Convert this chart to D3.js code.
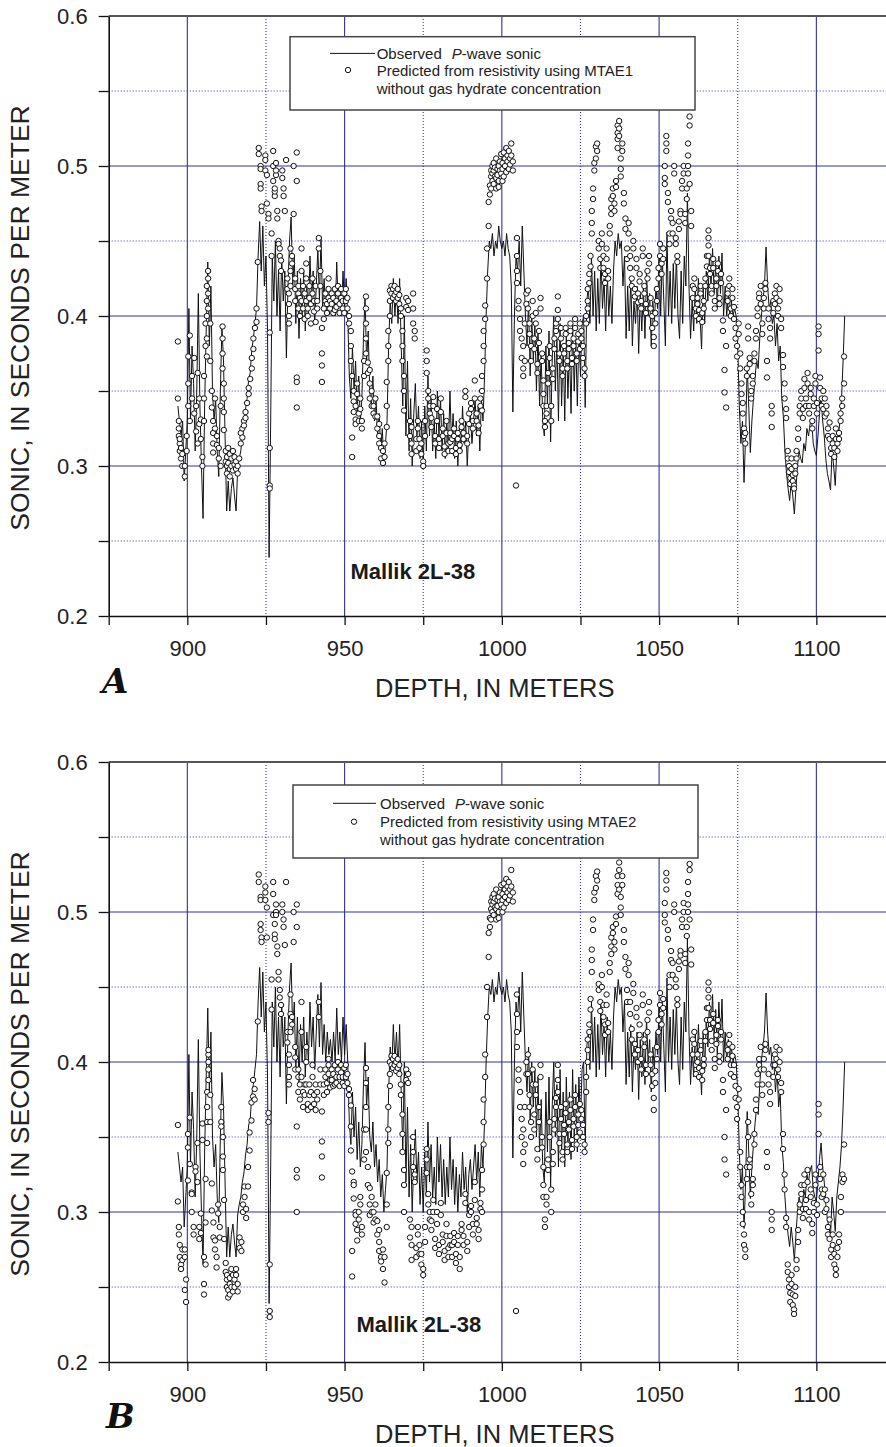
<!DOCTYPE html>
<html><head><meta charset="utf-8">
<script src="https://cdn.jsdelivr.net/npm/d3@7"></script>
<style>body{margin:0;background:#fff}svg{display:block;font-family:"Liberation Sans",Arial,Helvetica,sans-serif}</style>
</head><body><svg id="chart" width="886" height="1447"></svg>
<script>
// ---------------- DATA ----------------
const depthDomain = [875, 1125];
const sonicDomain = [0.2, 0.6];
const xTicks = [875, 900, 925, 950, 975, 1000, 1025, 1050, 1075, 1100, 1125];
const xTickLabels = [900, 950, 1000, 1050, 1100];
const yTicks = [0.2, 0.25, 0.3, 0.35, 0.4, 0.45, 0.5, 0.55, 0.6];
const yTickLabels = ["0.2", "0.3", "0.4", "0.5", "0.6"];
const majorGridX = [900, 950, 1000, 1050, 1100];
const minorGridX = [925, 975, 1025, 1075];
const majorGridY = [0.3, 0.4, 0.5];
const minorGridY = [0.25, 0.35, 0.45, 0.55];

// Observed P-wave sonic, sampled every 0.5 m starting at 897 m
const observedStartDepth = 897, observedStep = 0.5;
const observedSonic = [
0.340,0.330,0.320,0.330,0.290,0.310,0.330,0.405,0.330,0.380,
0.355,0.310,0.350,0.415,0.340,0.300,0.265,0.340,0.390,0.436,
0.380,0.420,0.350,0.330,0.345,0.310,0.293,0.350,0.393,0.370,
0.320,0.270,0.290,0.270,0.285,0.292,0.280,0.270,0.298,0.305,
0.310,0.320,0.326,0.338,0.345,0.358,0.362,0.378,0.385,0.395,
0.405,0.440,0.463,0.430,0.460,0.420,0.440,0.390,0.239,0.330,
0.440,0.410,0.450,0.400,0.430,0.390,0.440,0.410,0.430,0.372,
0.420,0.450,0.466,0.420,0.440,0.395,0.430,0.385,0.425,0.400,
0.430,0.390,0.420,0.400,0.440,0.410,0.430,0.395,0.420,0.445,
0.410,0.453,0.405,0.425,0.400,0.420,0.405,0.415,0.400,0.420,
0.400,0.436,0.405,0.420,0.400,0.430,0.405,0.425,0.400,0.360,
0.345,0.380,0.350,0.370,0.335,0.360,0.330,0.345,0.385,0.413,
0.370,0.390,0.350,0.340,0.360,0.330,0.345,0.320,0.335,0.310,
0.325,0.300,0.315,0.330,0.380,0.410,0.395,0.425,0.400,0.420,
0.395,0.425,0.380,0.340,0.400,0.320,0.370,0.310,0.345,0.300,
0.335,0.355,0.320,0.340,0.305,0.330,0.300,0.340,0.310,0.360,
0.320,0.345,0.310,0.330,0.305,0.350,0.320,0.345,0.310,0.335,
0.305,0.330,0.310,0.350,0.315,0.335,0.305,0.330,0.300,0.325,
0.310,0.340,0.315,0.330,0.300,0.325,0.335,0.315,0.330,0.345,
0.320,0.340,0.310,0.345,0.330,0.360,0.400,0.430,0.450,0.445,
0.455,0.440,0.450,0.445,0.460,0.450,0.445,0.450,0.440,0.455,
0.445,0.440,0.420,0.336,0.400,0.440,0.430,0.450,0.420,0.460,
0.430,0.400,0.380,0.410,0.360,0.400,0.370,0.395,0.350,0.390,
0.340,0.375,0.330,0.320,0.380,0.340,0.390,0.316,0.370,0.400,
0.350,0.385,0.330,0.395,0.340,0.380,0.330,0.390,0.345,0.380,
0.335,0.395,0.350,0.385,0.340,0.390,0.360,0.395,0.400,0.339,
0.410,0.420,0.395,0.440,0.400,0.430,0.390,0.425,0.395,0.440,
0.405,0.425,0.390,0.430,0.400,0.420,0.395,0.430,0.450,0.440,
0.455,0.445,0.450,0.420,0.440,0.385,0.420,0.390,0.425,0.380,
0.410,0.395,0.420,0.375,0.415,0.390,0.420,0.385,0.430,0.400,
0.415,0.380,0.410,0.395,0.420,0.405,0.440,0.400,0.440,0.410,
0.380,0.456,0.400,0.430,0.395,0.435,0.405,0.440,0.400,0.385,
0.430,0.395,0.440,0.420,0.482,0.420,0.385,0.410,0.390,0.420,
0.395,0.425,0.400,0.378,0.420,0.395,0.430,0.410,0.440,0.420,
0.445,0.415,0.435,0.405,0.440,0.415,0.442,0.400,0.420,0.400,
0.415,0.400,0.410,0.400,0.405,0.400,0.380,0.340,0.315,0.330,
0.289,0.320,0.367,0.340,0.309,0.330,0.345,0.359,0.370,0.365,
0.385,0.400,0.410,0.420,0.446,0.420,0.405,0.410,0.395,0.400,
0.380,0.395,0.370,0.380,0.345,0.333,0.310,0.295,0.285,0.277,
0.290,0.280,0.268,0.285,0.300,0.310,0.305,0.302,0.315,0.310,
0.325,0.320,0.328,0.331,0.315,0.310,0.307,0.320,0.335,0.346,
0.330,0.320,0.305,0.295,0.290,0.284,0.310,0.300,0.287,0.310,
0.320,0.330,0.345,0.370,0.400
];

// Predicted (MTAE1): each row = [depth, value, value, ...]
const predictedMTAE1 = [
[897.0,0.383,0.345],[897.3,0.330,0.325,0.320],[897.6,0.315,0.310,0.318],[898.0,0.305,0.312],[898.4,0.300,0.308],
[899.2,0.293,0.300],[899.8,0.310,0.320],[900.3,0.340,0.355,0.373],[900.8,0.387,0.330],[901.5,0.345,0.360],
[902.2,0.372,0.335],[902.8,0.323,0.340],[903.3,0.362,0.315],[903.8,0.328,0.345],[904.3,0.331,0.318],
[904.8,0.300,0.306],[905.3,0.330,0.345,0.360],[905.8,0.380,0.395],[906.2,0.373,0.385,0.400,0.410,0.420],
[906.6,0.405,0.415,0.425,0.430],[907.3,0.395,0.370],[907.8,0.350,0.339],[908.2,0.330,0.322,0.315,0.309],
[908.8,0.345,0.325],[909.4,0.320,0.314],[910.0,0.305,0.312],[910.6,0.340,0.300],[911.2,0.393,0.385,0.375,0.365],
[911.6,0.355,0.345,0.336,0.324],[912.2,0.310,0.303],[912.6,0.300,0.295,0.306],[913.0,0.312,0.302],
[913.5,0.308,0.298,0.293],[914.0,0.305,0.300],[914.5,0.310,0.297],[915.0,0.306,0.301],[915.5,0.303,0.298],
[916.0,0.300,0.295],[916.5,0.305],[917.0,0.322,0.315],[917.5,0.325,0.319],[918.0,0.330,0.327],[918.5,0.336,0.332],
[919.0,0.342],[919.5,0.348,0.352],[920.0,0.358],[920.5,0.365,0.372],[921.0,0.378,0.385],[921.5,0.392],
[922.0,0.396,0.405],[922.4,0.436],[922.7,0.512,0.508],[923.3,0.500,0.498,0.488,0.485],[923.6,0.473,0.470],
[924.8,0.507,0.504,0.497],[925.3,0.494,0.475],[925.8,0.468,0.465],[926.2,0.389,0.312,0.287,0.285],
[926.8,0.455,0.440],[927.3,0.510,0.500,0.490],[927.8,0.480,0.483,0.485],[928.2,0.494,0.502,0.497],
[928.6,0.470,0.465],[929.0,0.450,0.448],[929.4,0.440,0.445],[929.8,0.437,0.430],[930.2,0.492,0.497],
[930.6,0.480,0.485],[931.0,0.470],[931.4,0.504],[931.8,0.425,0.418],[932.3,0.415,0.408,0.400,0.395],
[932.8,0.420,0.430,0.445],[933.3,0.440,0.435],[933.8,0.468,0.500],[934.3,0.425,0.418,0.410],
[934.8,0.359,0.356,0.339,0.490,0.509],[935.3,0.405,0.415,0.420],[935.8,0.412,0.400],[936.3,0.445,0.430,0.410],
[936.8,0.420,0.405],[937.3,0.398,0.415],[937.8,0.425,0.435,0.410],[938.3,0.405,0.400],[938.8,0.420,0.412],
[939.3,0.395,0.408],[939.8,0.415,0.425],[940.3,0.403,0.410],[940.8,0.396,0.420],[941.3,0.410,0.405],
[941.8,0.445,0.452],[942.3,0.430,0.420],[942.8,0.375,0.367,0.356,0.392],[943.4,0.405,0.398],[943.9,0.410,0.415],
[944.4,0.402,0.408],[944.9,0.412,0.418,0.425],[945.4,0.410,0.405],[945.9,0.415,0.408],[946.4,0.402,0.412],
[946.9,0.418,0.404],[947.4,0.410,0.406],[947.9,0.420,0.415],[948.4,0.402,0.408],[948.9,0.412,0.418],
[949.4,0.405,0.410],[949.9,0.415,0.402],[950.4,0.410,0.418],[950.9,0.405,0.412],[951.4,0.395,0.400],
[952.0,0.390,0.380,0.370],[952.4,0.306,0.319,0.360],[952.9,0.350,0.343,0.336],[953.5,0.331,0.328,0.340],
[954.0,0.355,0.348],[954.5,0.335,0.330],[955.0,0.345,0.338],[955.5,0.325,0.330],[956.2,0.360,0.370],
[956.8,0.413,0.405,0.395,0.385,0.375],[957.4,0.369,0.362],[958.0,0.364,0.355,0.345],[958.6,0.350,0.340],
[959.2,0.335,0.340],[959.8,0.345,0.333],[960.4,0.333,0.325],[961.0,0.320,0.315,0.328],[961.6,0.312,0.305],
[962.2,0.310,0.302],[962.7,0.306,0.315],[963.4,0.326,0.340,0.356],[963.9,0.370,0.380,0.390],
[964.4,0.400,0.410,0.417],[964.9,0.415,0.420],[965.4,0.412,0.418],[965.9,0.414,0.420],[966.4,0.410,0.416],
[966.9,0.412,0.418],[967.4,0.408,0.414],[967.9,0.405,0.400],[968.4,0.390,0.380,0.370],[968.9,0.360,0.350,0.337],
[969.6,0.412,0.406],[970.2,0.404,0.410],[970.8,0.330,0.320],[971.3,0.326,0.315,0.308],[971.8,0.415,0.405,0.395],
[972.3,0.385,0.390],[972.8,0.310,0.318],[973.3,0.325,0.330],[973.8,0.318,0.312],[974.4,0.308,0.315],
[975.0,0.303,0.300],[975.6,0.320,0.330],[976.1,0.377,0.370,0.362],[976.6,0.350,0.345],[977.1,0.340,0.335],
[977.6,0.326,0.332],[978.2,0.346,0.340],[978.8,0.320,0.315],[979.4,0.338,0.330],[980.0,0.312,0.318],
[980.6,0.345,0.336],[981.2,0.325,0.320],[981.8,0.313,0.308],[982.4,0.330,0.322],[983.0,0.315,0.310],
[983.6,0.322,0.316],[984.2,0.310,0.318],[984.8,0.325,0.320],[985.4,0.312,0.308],[986.0,0.318,0.322],
[986.6,0.310,0.314],[987.2,0.330,0.326],[987.8,0.318,0.322],[988.4,0.350,0.346],[989.0,0.320,0.315],
[989.6,0.335,0.328],[990.2,0.342,0.338],[990.8,0.325,0.330],[991.4,0.345,0.357],[992.0,0.335,0.330],
[992.6,0.322,0.327],[993.2,0.340,0.345],[993.7,0.337,0.350,0.360],[994.2,0.370,0.380,0.390],[994.7,0.398,0.407],
[995.3,0.425,0.445],[995.8,0.460,0.476],[996.2,0.481,0.487],[996.6,0.493,0.497,0.485],[997.0,0.490,0.500,0.495],
[997.4,0.502,0.497,0.488],[997.8,0.493,0.499],[998.2,0.485,0.492,0.505],[998.6,0.498,0.494],
[999.0,0.500,0.490,0.486],[999.4,0.503,0.497],[999.8,0.508,0.495],[1000.2,0.498,0.502,0.490],[1000.6,0.493,0.509],
[1001.0,0.500,0.505],[1001.4,0.512,0.496],[1001.8,0.503,0.507],[1002.2,0.498,0.510],[1002.6,0.505,0.501],
[1003.0,0.515,0.507],[1003.5,0.497,0.503],[1004.5,0.287],[1004.8,0.452,0.440,0.430,0.422],[1005.3,0.410,0.405],
[1005.8,0.398,0.390],[1006.3,0.385,0.372],[1006.8,0.380,0.365,0.360],[1007.3,0.370,0.395],[1007.8,0.408,0.415],
[1008.3,0.417,0.405],[1008.8,0.395,0.388],[1009.3,0.380,0.370],[1009.8,0.400,0.410],[1010.3,0.385,0.378],
[1010.8,0.395,0.402],[1011.3,0.368,0.362],[1011.8,0.390,0.382],[1012.3,0.405,0.412],[1012.8,0.375,0.370],
[1013.2,0.357,0.348,0.340],[1013.7,0.330,0.326],[1014.2,0.340,0.335],[1014.7,0.355,0.362],[1015.2,0.380,0.372],
[1015.7,0.340,0.330],[1016.2,0.365,0.358],[1016.7,0.385,0.378],[1017.2,0.390,0.395],[1017.8,0.413,0.404,0.398],
[1018.3,0.375,0.370],[1018.8,0.385,0.392],[1019.3,0.365,0.360],[1019.8,0.380,0.375],[1020.3,0.392,0.388],
[1020.8,0.370,0.365],[1021.3,0.382,0.378],[1021.8,0.395,0.390],[1022.3,0.372,0.368],[1022.8,0.385,0.380],
[1023.3,0.398,0.392],[1023.8,0.375,0.370],[1024.3,0.388,0.383],[1024.8,0.378,0.395],[1025.3,0.385,0.390],
[1025.8,0.380,0.372],[1026.3,0.365,0.360],[1026.8,0.395,0.400],[1027.3,0.405,0.410,0.418],[1027.8,0.428,0.422],
[1028.2,0.440,0.433],[1028.6,0.470,0.462,0.455],[1029.0,0.485,0.478],[1029.4,0.497,0.502],[1029.9,0.513,0.505],
[1030.3,0.515,0.510],[1030.8,0.445,0.450],[1031.3,0.438,0.432],[1031.8,0.455,0.448],[1032.3,0.440,0.432],
[1032.8,0.428,0.422],[1033.3,0.445,0.438],[1033.8,0.425,0.430],[1034.3,0.455,0.460],[1034.8,0.468,0.472,0.478],
[1035.3,0.480,0.485],[1035.8,0.475,0.470],[1036.3,0.490,0.486],[1036.8,0.527,0.522,0.518,0.512],
[1037.3,0.530,0.525,0.520],[1037.8,0.505,0.498,0.493],[1038.3,0.510,0.515],[1038.8,0.482,0.475],
[1039.3,0.465,0.458],[1039.8,0.445,0.438],[1040.3,0.462,0.455],[1040.8,0.440,0.432],[1041.3,0.425,0.420],
[1041.8,0.450,0.445],[1042.3,0.418,0.413],[1042.8,0.438,0.432],[1043.3,0.415,0.409],[1043.8,0.428,0.423],
[1044.3,0.405,0.410],[1044.8,0.445,0.440],[1045.3,0.420,0.415],[1045.8,0.402,0.408],[1046.3,0.425,0.430],
[1046.8,0.440,0.435],[1047.3,0.412,0.405],[1047.8,0.400,0.392],[1048.3,0.386,0.380],[1048.8,0.395,0.402],
[1049.3,0.410,0.418],[1049.8,0.425,0.432],[1050.3,0.440,0.448],[1050.8,0.435,0.428],[1051.3,0.445,0.438],
[1051.8,0.492,0.488,0.500],[1052.3,0.520,0.515,0.510],[1052.8,0.482,0.476],[1053.3,0.455,0.448],
[1053.8,0.470,0.465],[1054.3,0.462,0.455],[1054.8,0.500,0.495],[1055.3,0.448,0.452],[1055.8,0.440,0.436],
[1056.3,0.458,0.463],[1056.8,0.470,0.468],[1057.3,0.490,0.485],[1057.8,0.500,0.495],[1058.3,0.468,0.462],
[1058.8,0.478,0.485],[1059.2,0.515,0.507,0.500,0.495],[1059.7,0.533,0.527,0.488],[1060.2,0.470,0.460],
[1060.7,0.420,0.412],[1061.2,0.425,0.418],[1061.7,0.405,0.400],[1062.2,0.412,0.408],[1062.7,0.398,0.404],
[1063.2,0.420,0.415],[1063.7,0.402,0.396],[1064.2,0.410,0.405],[1064.7,0.420,0.425],[1065.2,0.433,0.440],
[1065.7,0.457,0.452,0.447,0.440],[1066.2,0.432,0.428],[1066.7,0.420,0.415],[1067.2,0.438,0.432],
[1067.7,0.410,0.405],[1068.2,0.425,0.420],[1068.7,0.435,0.430],[1069.2,0.412,0.408],[1069.7,0.428,0.422],
[1070.3,0.397,0.390],[1070.8,0.364,0.349],[1071.3,0.339,0.380],[1071.8,0.410,0.415],[1072.3,0.420,0.425],
[1072.8,0.405,0.400],[1073.3,0.418,0.412],[1073.8,0.406,0.398],[1074.3,0.392,0.385],[1074.8,0.380,0.373],
[1075.3,0.395,0.388],[1075.8,0.375,0.365],[1076.2,0.355,0.348],[1076.6,0.342,0.335],[1077.0,0.325,0.320],
[1077.4,0.315,0.322],[1077.9,0.365,0.360],[1078.3,0.393,0.385],[1078.8,0.372,0.368],[1079.3,0.350,0.345],
[1079.8,0.360,0.355],[1080.3,0.375,0.370],[1080.8,0.390,0.385],[1081.3,0.405,0.400],[1081.8,0.415,0.412],
[1082.3,0.420,0.408],[1082.8,0.395,0.388],[1083.3,0.405,0.412],[1083.8,0.418,0.422],[1084.3,0.359,0.370],
[1084.8,0.405,0.398],[1085.3,0.385,0.392],[1085.8,0.340,0.335,0.326],[1086.3,0.410,0.402],[1086.8,0.415,0.408],
[1087.3,0.420,0.412],[1087.8,0.400,0.405],[1088.3,0.410,0.418],[1088.8,0.398,0.392],[1089.4,0.374,0.366],
[1089.9,0.355,0.345],[1090.4,0.332,0.338],[1090.9,0.310,0.305],[1091.3,0.300,0.296],[1091.7,0.292,0.288],
[1092.1,0.305,0.298],[1092.5,0.294,0.290],[1092.9,0.287,0.285],[1093.3,0.300,0.295],[1093.7,0.305,0.310],
[1094.2,0.318,0.325],[1094.7,0.335,0.340],[1095.2,0.345,0.350],[1095.7,0.338,0.332],[1096.2,0.352,0.358],
[1096.7,0.345,0.340],[1097.2,0.362,0.355],[1097.7,0.340,0.335],[1098.2,0.348,0.352],[1098.7,0.330,0.325],
[1099.2,0.345,0.340],[1099.7,0.355,0.360],[1100.2,0.342,0.335],[1100.7,0.393,0.388,0.377],[1101.2,0.359,0.352],
[1101.7,0.345,0.340],[1102.2,0.350,0.338],[1102.7,0.333,0.345],[1103.2,0.340,0.335],[1103.7,0.325,0.320],
[1104.2,0.329,0.318],[1104.7,0.312,0.308],[1105.2,0.320,0.315],[1105.7,0.306,0.312],[1106.2,0.318,0.325],
[1106.7,0.310,0.315],[1107.2,0.322,0.318],[1107.7,0.335,0.330],[1108.2,0.340,0.345],[1108.8,0.373,0.355]
];

// Predicted (MTAE2): each row = [depth, value, value, ...]
const predictedMTAE2 = [
[897.0,0.358,0.307],[897.3,0.290,0.285],[897.6,0.278,0.270],[898.0,0.265,0.262],[898.4,0.275,0.268],
[899.2,0.275,0.270,0.248],[899.6,0.240,0.255],[900.2,0.352,0.343,0.321],[900.8,0.363,0.332],
[901.4,0.313,0.312,0.300],[902.0,0.285,0.290],[902.6,0.330,0.327],[903.2,0.346,0.320],[903.8,0.290,0.282],
[904.3,0.286,0.299],[904.8,0.359,0.348],[905.3,0.270,0.252,0.245],[905.8,0.322,0.293,0.265],
[906.3,0.346,0.360,0.370,0.380],[906.7,0.388,0.395,0.400,0.405,0.408],[907.3,0.378,0.360],[907.8,0.319,0.301],
[908.3,0.293,0.283],[908.8,0.281,0.275],[909.3,0.270,0.263],[909.8,0.305,0.299],[910.3,0.290,0.283],
[910.8,0.370,0.360,0.357],[911.3,0.350,0.337,0.328],[911.7,0.308,0.282],[912.2,0.266,0.260],
[912.6,0.255,0.250,0.258],[913.0,0.248,0.243],[913.5,0.256,0.252,0.245],[914.0,0.250,0.262],[914.5,0.247,0.258],
[915.0,0.255,0.250],[915.5,0.262,0.258],[916.0,0.252,0.247],[916.6,0.283,0.276],[917.2,0.280,0.274],
[917.7,0.300,0.305],[918.2,0.310,0.317],[918.7,0.302,0.296],[919.3,0.317,0.330],[919.8,0.341,0.353],
[920.4,0.361,0.373],[920.9,0.377,0.388],[921.4,0.375,0.382],[922.4,0.427],[922.7,0.525,0.520],
[923.3,0.510,0.508,0.492,0.488],[923.6,0.483,0.480],[924.8,0.517,0.513,0.508],[925.3,0.503,0.483],
[925.8,0.360,0.366],[926.2,0.265,0.234,0.230],[926.8,0.455,0.435],[927.3,0.520,0.512,0.498],
[927.8,0.492,0.485,0.482],[928.2,0.500,0.498,0.505],[928.6,0.477,0.472],[929.0,0.460,0.455],[929.4,0.448,0.443],
[929.8,0.438,0.432],[930.2,0.500,0.505],[930.6,0.490,0.495],[931.0,0.478],[931.4,0.520],[931.8,0.420,0.413],
[932.3,0.405,0.398,0.390,0.385],[932.8,0.420,0.432,0.445],[933.3,0.430,0.425],[933.8,0.480,0.500],
[934.3,0.410,0.403,0.395],[934.8,0.357,0.328,0.323,0.300,0.490,0.505],[935.3,0.380,0.390,0.395],
[935.8,0.385,0.375],[936.3,0.440,0.420,0.390],[936.8,0.380,0.370],[937.3,0.378,0.385],[937.8,0.400,0.410,0.385],
[938.3,0.372,0.368],[938.8,0.385,0.378],[939.3,0.370,0.380],[939.8,0.390,0.398],[940.3,0.372,0.378],
[940.8,0.368,0.385],[941.3,0.380,0.375],[941.8,0.430,0.440],[942.3,0.395,0.385],[942.8,0.347,0.337,0.323,0.367],
[943.4,0.385,0.378],[943.9,0.390,0.395],[944.4,0.380,0.386],[944.9,0.392,0.398,0.402],[945.4,0.388,0.383],
[945.9,0.395,0.388],[946.4,0.384,0.392],[946.9,0.398,0.385],[947.4,0.390,0.386],[947.9,0.400,0.395],
[948.4,0.384,0.390],[948.9,0.393,0.398],[949.4,0.386,0.390],[949.9,0.396,0.384],[950.4,0.390,0.398],
[950.9,0.386,0.392],[951.4,0.378,0.382],[952.0,0.371,0.357,0.341],[952.4,0.257,0.274,0.327],
[952.9,0.320,0.318,0.309],[953.5,0.300,0.298,0.292],[954.0,0.288,0.281],[954.5,0.300,0.295],[955.0,0.310,0.305],
[955.5,0.285,0.290],[956.2,0.335,0.355],[956.8,0.396,0.386,0.370,0.355,0.340],[957.4,0.330,0.318],
[958.0,0.316,0.305,0.298],[958.6,0.310,0.300],[959.2,0.293,0.300],[959.8,0.305,0.295],[960.4,0.294,0.285],
[961.0,0.280,0.274,0.288],[961.6,0.270,0.267],[962.2,0.275,0.262],[962.7,0.253,0.270],[963.4,0.290,0.305,0.326],
[963.9,0.346,0.355,0.370],[964.4,0.384,0.392,0.400],[964.9,0.398,0.404],[965.4,0.396,0.402],[965.9,0.398,0.404],
[966.4,0.394,0.400],[966.9,0.396,0.402],[967.4,0.392,0.398],[967.9,0.385,0.378],[968.4,0.365,0.352,0.340],
[968.9,0.328,0.318,0.300],[969.6,0.395,0.388],[970.2,0.386,0.392],[970.8,0.295,0.283],[971.3,0.290,0.278,0.268],
[971.8,0.350,0.340,0.330],[972.3,0.320,0.325],[972.8,0.270,0.276],[973.3,0.285,0.290],[973.8,0.278,0.272],
[974.4,0.265,0.272],[975.0,0.262,0.258],[975.6,0.280,0.290],[976.1,0.342,0.335,0.326],[976.6,0.312,0.305],
[977.1,0.300,0.295],[977.6,0.288,0.294],[978.2,0.308,0.300],[978.8,0.282,0.276],[979.4,0.300,0.292],
[980.0,0.272,0.278],[980.6,0.306,0.298],[981.2,0.285,0.280],[981.8,0.274,0.268],[982.4,0.292,0.284],
[983.0,0.276,0.270],[983.6,0.284,0.278],[984.2,0.270,0.278],[984.8,0.286,0.280],[985.4,0.272,0.266],
[986.0,0.278,0.284],[986.6,0.270,0.262],[987.2,0.292,0.288],[987.8,0.278,0.284],[988.4,0.312,0.306],
[989.0,0.280,0.274],[989.6,0.298,0.290],[990.2,0.304,0.300],[990.8,0.285,0.292],[991.4,0.308,0.320],
[992.0,0.296,0.292],[992.6,0.282,0.288],[993.2,0.302,0.306],[993.7,0.300,0.315,0.328],[994.2,0.345,0.360,0.375],
[994.7,0.390,0.405],[995.3,0.430,0.450],[995.8,0.470,0.486],[996.2,0.490,0.496],[996.6,0.502,0.507,0.495],
[997.0,0.500,0.510,0.505],[997.4,0.512,0.507,0.498],[997.8,0.503,0.509],[998.2,0.495,0.502,0.515],
[998.6,0.508,0.504],[999.0,0.510,0.500,0.496],[999.4,0.513,0.507],[999.8,0.518,0.505],[1000.2,0.508,0.512,0.500],
[1000.6,0.503,0.519],[1001.0,0.510,0.515],[1001.4,0.522,0.506],[1001.8,0.513,0.517],[1002.2,0.508,0.520],
[1002.6,0.515,0.511],[1003.0,0.528,0.517],[1003.5,0.507,0.513],[1004.5,0.234],[1004.8,0.445,0.432,0.420,0.410],
[1005.3,0.395,0.388],[1005.8,0.380,0.370],[1006.3,0.362,0.350],[1006.8,0.355,0.340,0.332],[1007.3,0.345,0.370],
[1007.8,0.392,0.400],[1008.3,0.405,0.392],[1008.8,0.378,0.370],[1009.3,0.360,0.350],[1009.8,0.385,0.395],
[1010.3,0.365,0.355],[1010.8,0.378,0.385],[1011.3,0.342,0.335],[1011.8,0.370,0.360],[1012.3,0.390,0.398],
[1012.8,0.350,0.343],[1013.2,0.330,0.318,0.310],[1013.7,0.295,0.290],[1014.2,0.310,0.305],[1014.7,0.328,0.335],
[1015.2,0.360,0.350],[1015.7,0.315,0.300],[1016.2,0.340,0.332],[1016.7,0.362,0.355],[1017.2,0.370,0.376],
[1017.8,0.398,0.388,0.380],[1018.3,0.352,0.346],[1018.8,0.362,0.370],[1019.3,0.340,0.335],[1019.8,0.358,0.352],
[1020.3,0.372,0.366],[1020.8,0.345,0.340],[1021.3,0.360,0.355],[1021.8,0.375,0.368],[1022.3,0.348,0.342],
[1022.8,0.362,0.357],[1023.3,0.378,0.370],[1023.8,0.350,0.345],[1024.3,0.365,0.358],[1024.8,0.353,0.372],
[1025.3,0.362,0.368],[1025.8,0.358,0.350],[1026.3,0.345,0.340],[1026.8,0.380,0.390],[1027.3,0.400,0.408,0.415],
[1027.8,0.425,0.420],[1028.2,0.442,0.435],[1028.6,0.475,0.468,0.460],[1029.0,0.495,0.488],[1029.4,0.508,0.513],
[1029.9,0.524,0.516],[1030.3,0.527,0.521],[1030.8,0.448,0.452],[1031.3,0.440,0.434],[1031.8,0.458,0.450],
[1032.3,0.438,0.430],[1032.8,0.425,0.418],[1033.3,0.445,0.438],[1033.8,0.420,0.426],[1034.3,0.460,0.466],
[1034.8,0.472,0.477,0.483],[1035.3,0.486,0.490],[1035.8,0.480,0.475],[1036.3,0.497,0.492],
[1036.8,0.512,0.518,0.524],[1037.3,0.533,0.528,0.515],[1037.8,0.510,0.503,0.498],[1038.3,0.518,0.524],
[1038.8,0.488,0.480],[1039.3,0.470,0.462],[1039.8,0.448,0.440],[1040.3,0.466,0.458],[1040.8,0.440,0.432],
[1041.3,0.422,0.415],[1041.8,0.452,0.446],[1042.3,0.412,0.405],[1042.8,0.436,0.430],[1043.3,0.408,0.400],
[1043.8,0.425,0.418],[1044.3,0.395,0.402],[1044.8,0.445,0.438],[1045.3,0.415,0.410],[1045.8,0.392,0.398],
[1046.3,0.420,0.428],[1046.8,0.440,0.433],[1047.3,0.405,0.398],[1047.8,0.392,0.384],[1048.3,0.376,0.368],
[1048.8,0.386,0.394],[1049.3,0.402,0.410],[1049.8,0.420,0.428],[1050.3,0.438,0.446],[1050.8,0.432,0.425],
[1051.3,0.442,0.436],[1051.8,0.498,0.493,0.506],[1052.3,0.526,0.521,0.515],[1052.8,0.488,0.482],
[1053.3,0.458,0.450],[1053.8,0.474,0.468],[1054.3,0.466,0.458],[1054.8,0.505,0.500],[1055.3,0.450,0.455],
[1055.8,0.442,0.438],[1056.3,0.462,0.467],[1056.8,0.474,0.471],[1057.3,0.495,0.490],[1057.8,0.506,0.500],
[1058.3,0.472,0.466],[1058.8,0.484,0.490],[1059.2,0.520,0.512,0.505,0.500],[1059.7,0.532,0.528,0.495],
[1060.2,0.475,0.465],[1060.7,0.415,0.405],[1061.2,0.420,0.412],[1061.7,0.398,0.392],[1062.2,0.405,0.400],
[1062.7,0.390,0.396],[1063.2,0.414,0.408],[1063.7,0.394,0.388],[1064.2,0.402,0.398],[1064.7,0.414,0.420],
[1065.2,0.428,0.436],[1065.7,0.453,0.448,0.443,0.436],[1066.2,0.428,0.422],[1066.7,0.414,0.408],
[1067.2,0.432,0.426],[1067.7,0.402,0.396],[1068.2,0.418,0.412],[1068.7,0.428,0.424],[1069.2,0.404,0.400],
[1069.7,0.420,0.415],[1070.3,0.388,0.380],[1070.8,0.350,0.335],[1071.3,0.325,0.368],[1071.8,0.402,0.408],
[1072.3,0.412,0.418],[1072.8,0.398,0.392],[1073.3,0.410,0.404],[1073.8,0.398,0.390],[1074.3,0.384,0.376],
[1074.8,0.370,0.362],[1075.3,0.382,0.375],[1075.8,0.340,0.330],[1076.2,0.318,0.310],[1076.6,0.300,0.292],
[1077.0,0.285,0.278],[1077.4,0.270,0.275],[1077.9,0.330,0.322],[1078.3,0.360,0.350],[1078.8,0.335,0.330],
[1079.3,0.312,0.305],[1079.8,0.322,0.318],[1080.3,0.352,0.345],[1080.8,0.375,0.368],[1081.3,0.392,0.385],
[1081.8,0.402,0.398],[1082.3,0.410,0.395],[1082.8,0.385,0.378],[1083.3,0.395,0.402],[1083.8,0.408,0.412],
[1084.3,0.330,0.340],[1084.8,0.392,0.385],[1085.3,0.372,0.380],[1085.8,0.300,0.295,0.288],[1086.3,0.398,0.390],
[1086.8,0.405,0.398],[1087.3,0.410,0.402],[1087.8,0.390,0.395],[1088.3,0.400,0.408],[1088.8,0.386,0.380],
[1089.4,0.352,0.342],[1089.9,0.325,0.315],[1090.4,0.290,0.296],[1090.9,0.265,0.260],[1091.3,0.255,0.250],
[1091.7,0.246,0.240],[1092.1,0.258,0.252],[1092.5,0.245,0.238],[1092.9,0.235,0.232],[1093.3,0.250,0.244],
[1093.7,0.262,0.268],[1094.2,0.280,0.288],[1094.7,0.300,0.305],[1095.2,0.312,0.318],[1095.7,0.302,0.296],
[1096.2,0.318,0.325],[1096.7,0.308,0.302],[1097.2,0.328,0.320],[1097.7,0.300,0.295],[1098.2,0.310,0.315],
[1098.7,0.292,0.286],[1099.2,0.306,0.300],[1099.7,0.318,0.325],[1100.2,0.305,0.298],[1100.7,0.372,0.365,0.352],
[1101.2,0.330,0.322],[1101.7,0.315,0.310],[1102.2,0.325,0.312],[1102.7,0.300,0.315],[1103.2,0.308,0.302],
[1103.7,0.290,0.285],[1104.2,0.295,0.282],[1104.7,0.275,0.270],[1105.2,0.285,0.278],[1105.7,0.265,0.272],
[1106.2,0.262,0.258],[1106.7,0.270,0.276],[1107.2,0.285,0.280],[1107.8,0.300,0.310],[1108.3,0.320,0.325],
[1108.8,0.345,0.322]
];

const panelLetters = ["A", "B"];
const modelNames = ["MTAE1", "MTAE2"];
const wellName = "Mallik 2L-38";
const xTitle = "DEPTH, IN METERS";
const yTitle = "SONIC, IN SECONDS PER METER";

// ---------------- DRAWING ----------------
const svg = d3.select("#chart");
const left = 108.7, plotW = 786.3, plotH = 600;
const layouts = [
  {top: 16,  legend: {x: 290, y: 20.7, w: 405, h: 73.3, tx: 376.7, rows: [42.6, 59.8, 77.8], lx1: 330, lx2: 375, ly: 37.4, cx: 348, cy: 54},
   mallik: {x: 350.5, y: 563}, letter: {x: 102, y: 677}},
  {top: 762, legend: {x: 293, y: 23, w: 405, h: 73, tx: 380, rows: [46.6, 65, 83.4], lx1: 333, lx2: 376, ly: 41.3, cx: 354, cy: 59.7},
   mallik: {x: 356.5, y: 570}, letter: {x: 106, y: 666}}
];
const predSets = [predictedMTAE1, predictedMTAE2];
const observedPts = observedSonic.map((v, i) => [observedStartDepth + i * observedStep, v]);

layouts.forEach((L, pi) => {
  const x = d3.scaleLinear().domain(depthDomain).range([left, left + plotW]);
  const y = d3.scaleLinear().domain(sonicDomain).range([L.top + plotH, L.top]);
  const g = svg.append("g");

  // grid
  g.selectAll(".gmx").data(majorGridX).enter().append("line")
    .attr("x1", d => x(d)).attr("x2", d => x(d)).attr("y1", y(0.6)).attr("y2", y(0.2))
    .attr("stroke", "#33339a").attr("stroke-width", 1.1);
  g.selectAll(".gnx").data(minorGridX).enter().append("line")
    .attr("x1", d => x(d)).attr("x2", d => x(d)).attr("y1", y(0.6)).attr("y2", y(0.2))
    .attr("stroke", "#3434c4").attr("stroke-width", 1.1).attr("stroke-dasharray", "1,2");
  g.selectAll(".gmy").data(majorGridY).enter().append("line")
    .attr("x1", left).attr("x2", left + plotW).attr("y1", d => y(d)).attr("y2", d => y(d))
    .attr("stroke", "#33339a").attr("stroke-width", 1.1);
  g.selectAll(".gny").data(minorGridY).enter().append("line")
    .attr("x1", left).attr("x2", left + plotW).attr("y1", d => y(d)).attr("y2", d => y(d))
    .attr("stroke", "#3434c4").attr("stroke-width", 1.1).attr("stroke-dasharray", "1,2");

  // top border
  g.append("line").attr("x1", left).attr("x2", left + plotW).attr("y1", y(0.6)).attr("y2", y(0.6))
    .attr("stroke", "#555").attr("stroke-width", 2);

  // axes
  const yAxis = d3.axisLeft(y).tickValues(yTicks).tickSize(10).tickSizeOuter(0)
    .tickFormat(d => yTickLabels.includes(d3.format(".1f")(d)) && Math.abs(d * 10 - Math.round(d * 10)) < 1e-6 ? d3.format(".1f")(d) : "");
  const ya = g.append("g").attr("transform", `translate(${left},0)`).call(yAxis);
  ya.select(".domain").attr("stroke", "#111").attr("stroke-width", 1.6);
  ya.selectAll(".tick line").attr("stroke", "#111").attr("stroke-width", 1.3);
  ya.selectAll(".tick text").attr("font-size", 22).attr("fill", "#222").attr("x", -21).attr("font-family", '"Liberation Sans",Arial,sans-serif');

  const xAxis = d3.axisBottom(x).tickValues(xTicks).tickSize(9).tickSizeOuter(0)
    .tickFormat(d => xTickLabels.includes(d) ? String(d) : "");
  const xa = g.append("g").attr("transform", `translate(0,${L.top + plotH})`).call(xAxis);
  xa.select(".domain").attr("stroke", "#111").attr("stroke-width", 1.6);
  xa.selectAll(".tick line").attr("stroke", "#111").attr("stroke-width", 1.3);
  xa.selectAll(".tick text").attr("font-size", 22).attr("fill", "#222").attr("y", 24).attr("font-family", '"Liberation Sans",Arial,sans-serif');

  // observed line
  const line = d3.line().x(d => x(d[0])).y(d => y(d[1]));
  g.append("path").datum(observedPts).attr("d", line)
    .attr("fill", "none").attr("stroke", "#111").attr("stroke-width", 1).attr("stroke-linejoin", "round");

  // predicted circles
  const pts = predSets[pi].flatMap(r => r.slice(1).map(v => [r[0], v]));
  g.selectAll(".pc").data(pts).enter().append("circle")
    .attr("cx", d => x(d[0])).attr("cy", d => y(d[1])).attr("r", 2.7)
    .attr("fill", "#fff").attr("stroke", "#111").attr("stroke-width", 1);

  // legend
  const lg = L.legend;
  const leg = g.append("g").attr("transform", `translate(0,${L.top})`);
  leg.append("rect").attr("x", lg.x).attr("y", lg.y).attr("width", lg.w).attr("height", lg.h)
    .attr("fill", "#fff").attr("stroke", "#444").attr("stroke-width", 1.5);
  leg.append("line").attr("x1", lg.lx1).attr("x2", lg.lx2).attr("y1", lg.ly).attr("y2", lg.ly)
    .attr("stroke", "#111").attr("stroke-width", 1);
  leg.append("circle").attr("cx", lg.cx).attr("cy", lg.cy).attr("r", 2.7)
    .attr("fill", "#fff").attr("stroke", "#111").attr("stroke-width", 1);
  const t1 = leg.append("text").attr("x", lg.tx).attr("y", lg.rows[0]).attr("font-size", 15).attr("fill", "#222");
  t1.append("tspan").text("Observed");
  t1.append("tspan").attr("x", lg.tx + 75).attr("font-style", "italic").text("P");
  t1.append("tspan").text("-wave sonic");
  leg.append("text").attr("x", lg.tx).attr("y", lg.rows[1]).attr("font-size", 15).attr("fill", "#222")
    .text("Predicted from resistivity using " + modelNames[pi]);
  leg.append("text").attr("x", lg.tx).attr("y", lg.rows[2]).attr("font-size", 15).attr("fill", "#222")
    .text("without gas hydrate concentration");

  // well name
  g.append("text").attr("x", L.mallik.x).attr("y", L.top + L.mallik.y)
    .attr("font-size", 22).attr("font-weight", "bold").attr("fill", "#1a1a1a").text(wellName);

  // axis titles
  g.append("text").attr("x", 375).attr("y", L.top + 681).attr("font-size", 25.5).attr("fill", "#222").text(xTitle);
  g.append("text").attr("transform", `translate(29,${L.top + 302}) rotate(-90)`).attr("text-anchor", "middle")
    .attr("font-size", 26.5).attr("fill", "#222").text(yTitle);

  // panel letter
  g.append("text").attr("x", L.letter.x).attr("y", L.top + L.letter.y)
    .attr("font-family", '"DejaVu Serif","Liberation Serif",serif').attr("font-size", 34)
    .attr("font-weight", "bold").attr("font-style", "italic").attr("fill", "#111").text(panelLetters[pi]);
});
</script></body></html>
